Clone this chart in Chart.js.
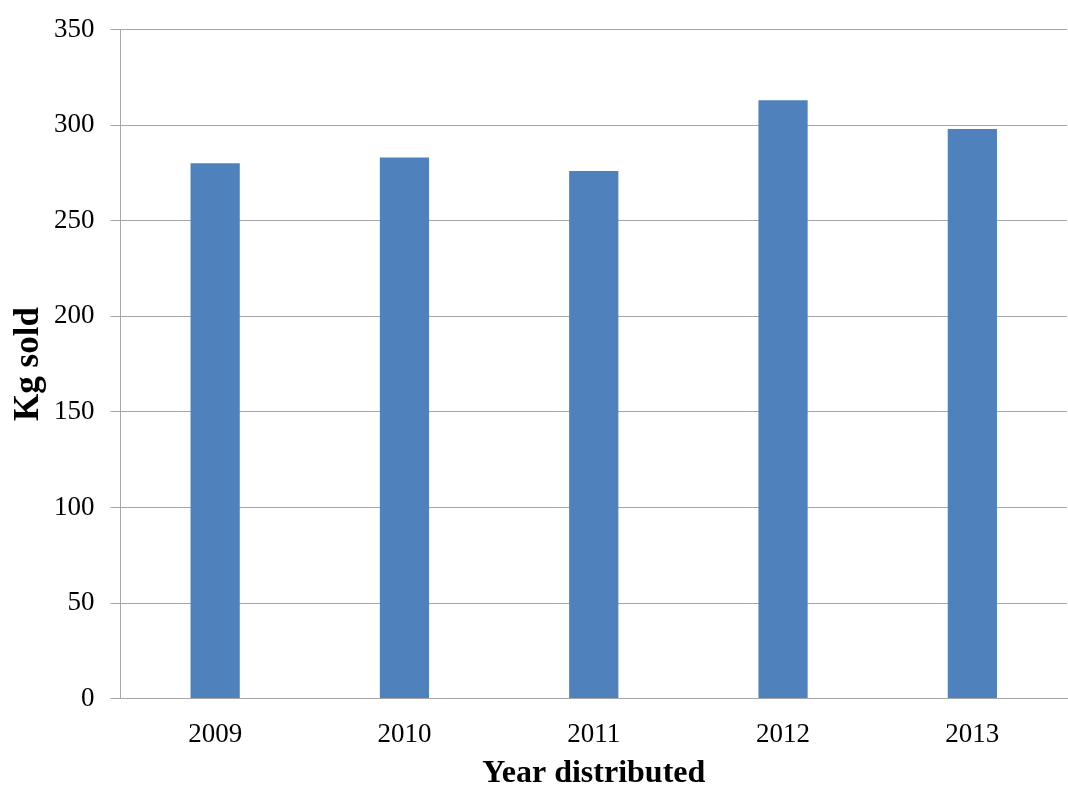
<!DOCTYPE html>
<html>
<head>
<meta charset="utf-8">
<script src="https://cdn.jsdelivr.net/npm/chart.js@4/dist/chart.umd.min.js"></script>
<style>
  html, body { margin: 0; padding: 0; background: #fff; }
  #wrap { width: 1068px; height: 785px; }
</style>
</head>
<body>
<div id="wrap"><canvas id="kgChart"></canvas></div>
<script>
// data
const years = ['2009', '2010', '2011', '2012', '2013'];
const kgSold = [280, 283, 276, 313, 298];
const yTicks = [0, 50, 100, 150, 200, 250, 300, 350];

const gridGrey = '#a6a6a6';
const serif = "'Liberation Serif', 'Times New Roman', serif";

new Chart(document.getElementById('kgChart'), {
    type: 'bar',
    data: {
        labels: years,
        datasets: [{
            label: 'Kg sold',
            data: kgSold,
            backgroundColor: '#4f81bd',
            barPercentage: 0.26,
            categoryPercentage: 1
        }]
    },
    options: {
        responsive: true,
        maintainAspectRatio: false,
        animation: false,
        layout: { padding: { top: 10, right: 1, bottom: 0, left: 0 } },
        plugins: {
            legend: { display: false },
            tooltip: { enabled: false }
        },
        scales: {
            x: {
                grid: { display: false, drawTicks: false, tickLength: 0 },
                border: { display: true, color: gridGrey, width: 1 },
                ticks: { color: '#000', font: { family: serif, size: 27 }, padding: 20 },
                title: {
                    display: true,
                    text: 'Year distributed',
                    color: '#000',
                    font: { family: serif, size: 32, weight: 'bold', lineHeight: 1 },
                    padding: { top: -13, bottom: -5 }
                }
            },
            y: {
                min: 0,
                max: 350,
                afterBuildTicks: function(axis) {
                    axis.ticks = yTicks.map(v => ({ value: v }));
                },
                grid: { color: gridGrey, tickLength: 10 },
                border: { display: true, color: gridGrey, width: 1 },
                ticks: { color: '#000', font: { family: serif, size: 27, lineHeight: 1 }, padding: 16 },
                title: {
                    display: true,
                    text: 'Kg sold',
                    color: '#000',
                    font: { family: serif, size: 35, weight: 'bold' },
                    padding: { top: 8, bottom: -12 }
                }
            }
        }
    }
});
</script>
</body>
</html>
